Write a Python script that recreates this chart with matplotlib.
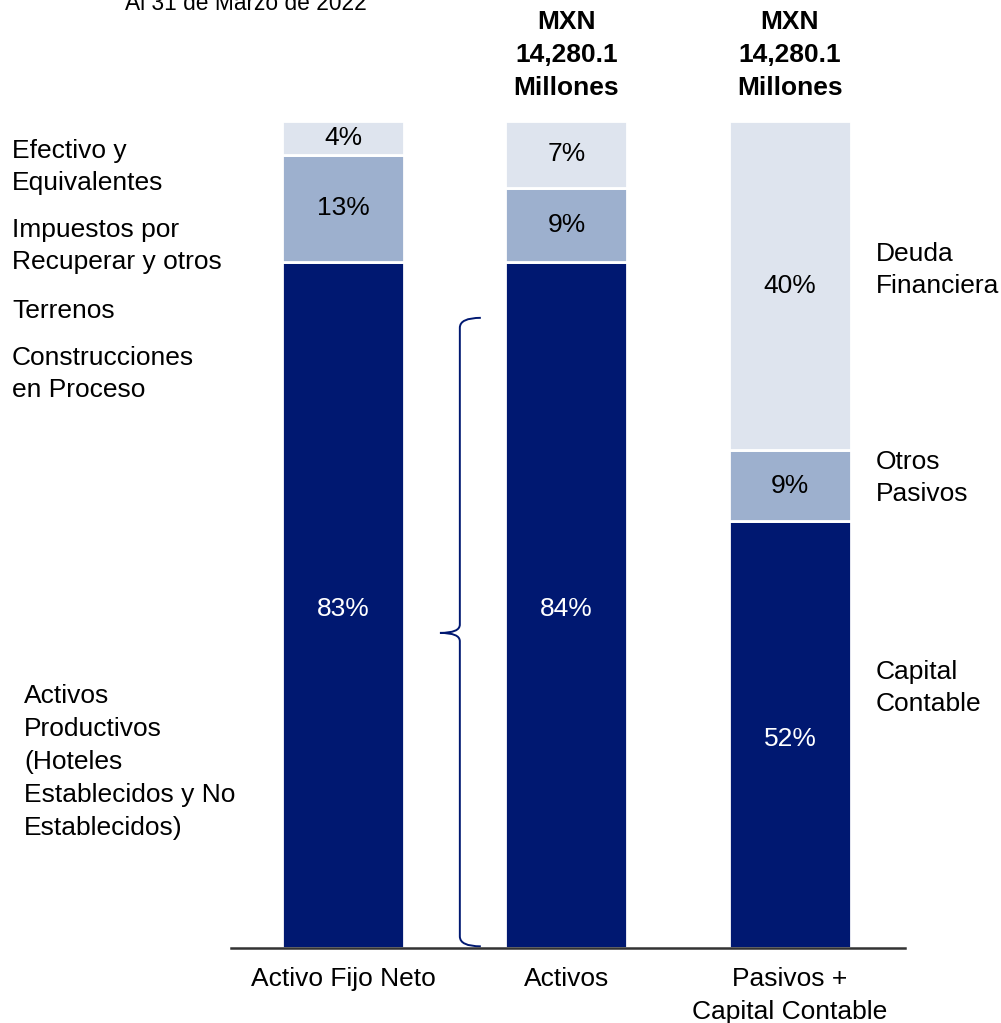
import matplotlib
matplotlib.use("Agg")
import matplotlib.pyplot as plt
from matplotlib.path import Path
from matplotlib.patches import PathPatch
import numpy as np

plt.rcParams['font.family'] = ['Liberation Sans', 'DejaVu Sans']

categories = ["Activo Fijo Neto", "Activos", "Pasivos +\nCapital Contable"]
# segment heights (share of each bar)
bottom_vals = [83.0, 83.0, 51.6]   # dark segment
middle_vals = [12.9, 8.9, 8.6]     # medium segment
top_vals = [4.1, 8.1, 39.8]        # light segment
# printed labels
bottom_labels = ["83%", "84%", "52%"]
middle_labels = ["13%", "9%", "9%"]
top_labels = ["4%", "7%", "40%"]
headers = ["", "MXN\n14,280.1\nMillones", "MXN\n14,280.1\nMillones"]
title_text = "Al 31 de Marzo de 2022"

left_labels = [("Efectivo y\nEquivalentes", 167, 12),
               ("Impuestos por\nRecuperar y otros", 246, 12),
               ("Terrenos", 311, 12),
               ("Construcciones\nen Proceso", 374, 12),
               ("Activos\nProductivos\n(Hoteles\nEstablecidos y No\nEstablecidos)", 762, 24)]
right_labels = [("Deuda\nFinanciera", 270), ("Otros\nPasivos", 478), ("Capital\nContable", 688)]

c_dark = "#001871"
c_mid = "#9DB0CE"
c_light = "#DEE4EE"

W, H = 1001, 1023
fig = plt.figure(figsize=(W/100, H/100), dpi=100)
ax = fig.add_axes([231/W, 1 - 948/H, 674/W, 827/H])

x = np.arange(len(categories))
b = np.array(bottom_vals, float)
m = np.array(middle_vals, float)
t = np.array(top_vals, float)
tot = b + m + t
bn, mn, tn = b/tot*100, m/tot*100, t/tot*100
width = 0.546
ax.bar(x, bn, width, color=c_dark, edgecolor="white", linewidth=2)
ax.bar(x, mn, width, bottom=bn, color=c_mid, edgecolor="white", linewidth=2)
ax.bar(x, tn, width, bottom=bn+mn, color=c_light, edgecolor="white", linewidth=2)

fs = 19
ls = 1.47
for i in range(len(x)):
    ax.text(x[i], bn[i]/2 - 0.5, bottom_labels[i], ha="center", va="center", color="white", fontsize=fs)
    ax.text(x[i], bn[i] + mn[i]/2, middle_labels[i], ha="center", va="center", color="black", fontsize=fs)
    ax.text(x[i], bn[i] + mn[i] + tn[i]/2, top_labels[i], ha="center", va="center", color="black", fontsize=fs)

ax.set_xlim(-0.501, 2.515)
ax.set_ylim(0, 100)
ax.set_xticks(x)
ax.set_xticklabels(categories, fontsize=fs, linespacing=ls)
ax.tick_params(axis="x", length=0, pad=14)
ax.set_yticks([])
for s in ["top", "right", "left"]:
    ax.spines[s].set_visible(False)
ax.spines["bottom"].set_color("#333333")
ax.spines["bottom"].set_linewidth(1.8)

# brace
bx, hx, tx = 0.523, 0.617, 0.434
ytop, ytip, ybot = 76.2, 38.1, 0.2
verts = [(hx, ytop), (bx, ytop), (bx, ytop - 1.2),
         (bx, ytip + 1.0), (bx, ytip), (tx, ytip),
         (bx, ytip), (bx, ytip - 1.0),
         (bx, ybot + 1.2), (bx, ybot), (hx, ybot)]
codes = [Path.MOVETO, Path.CURVE3, Path.CURVE3,
         Path.LINETO, Path.CURVE3, Path.CURVE3,
         Path.CURVE3, Path.CURVE3,
         Path.LINETO, Path.CURVE3, Path.CURVE3]
ax.add_patch(PathPatch(Path(verts, codes), fill=False, edgecolor=c_dark, linewidth=1.4, clip_on=False))

# headers
for i, h in enumerate(headers):
    if h:
        xf = (231 + (x[i] + 0.501) / 3.016 * 674) / W
        fig.text(xf, 1 - 55/H, h, ha="center", va="center", fontsize=fs, fontweight="bold", linespacing=ls)

fig.text(246/W, 1 - 10/H, title_text, ha="center", va="baseline", fontsize=16.4)

for txt, yc, xl in left_labels:
    fig.text(xl/W, 1 - yc/H, txt, ha="left", va="center", fontsize=fs, linespacing=ls)
for txt, yc in right_labels:
    fig.text(876/W, 1 - yc/H, txt, ha="left", va="center", fontsize=fs, linespacing=ls)

fig.savefig("out.png", dpi=100)
